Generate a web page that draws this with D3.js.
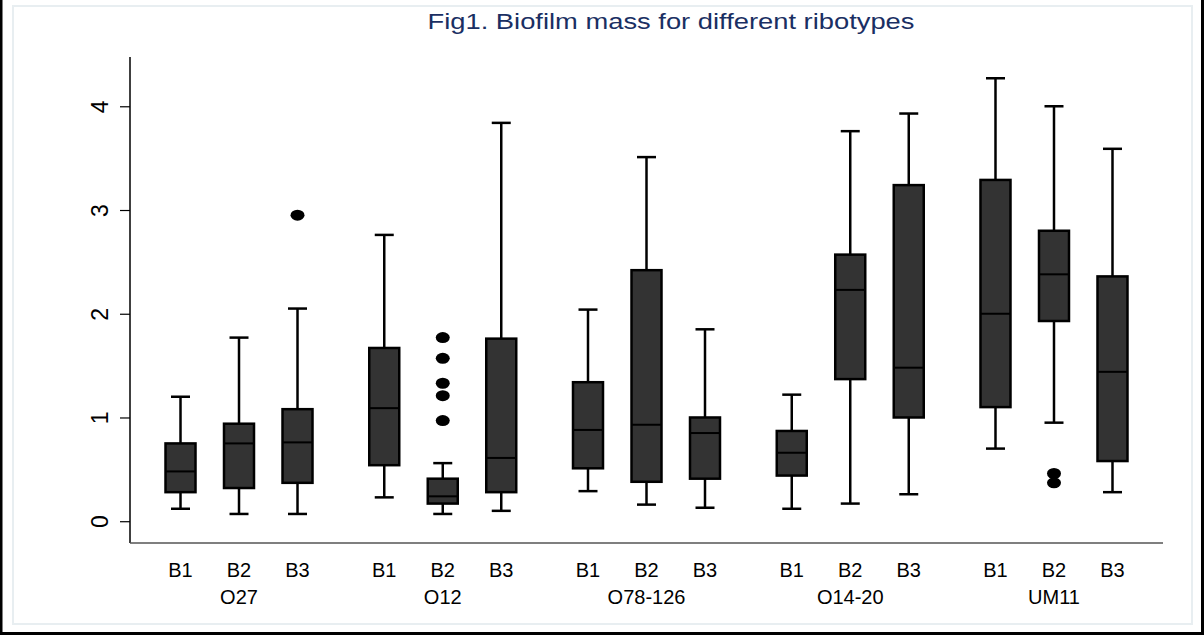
<!DOCTYPE html>
<html>
<head>
<meta charset="utf-8">
<script src="https://cdn.jsdelivr.net/npm/d3@7"></script>
<style>
  body { margin: 0; background: #fff; }
  svg { display: block; font-family: "Liberation Sans", Arial, sans-serif; }
</style>
</head>
<body>
<div id="chart"></div>
<script>
// ribotypes (groups) and the three bacterial strains shown inside each
var groups = ["O27", "O12", "O78-126", "O14-20", "UM11"];
var strains = ["B1", "B2", "B3"];
var yTicks = [0, 1, 2, 3, 4];

// box stats per group, in strain order B1,B2,B3 : [lowWhisker, q1, median, q3, highWhisker]
var statsO27    = [[0.12, 0.28, 0.48, 0.75, 1.20], [0.07, 0.32, 0.75, 0.94, 1.77], [0.07, 0.37, 0.76, 1.08, 2.05]];
var statsO12    = [[0.23, 0.54, 1.09, 1.67, 2.76], [0.07, 0.17, 0.24, 0.41, 0.56], [0.10, 0.28, 0.61, 1.76, 3.84]];
var statsO78    = [[0.29, 0.51, 0.88, 1.34, 2.04], [0.16, 0.38, 0.93, 2.42, 3.51], [0.13, 0.41, 0.85, 1.00, 1.85]];
var statsO14    = [[0.12, 0.44, 0.66, 0.87, 1.22], [0.17, 1.37, 2.23, 2.57, 3.76], [0.26, 1.00, 1.48, 3.24, 3.93]];
var statsUM11   = [[0.70, 1.10, 2.00, 3.29, 4.27], [0.95, 1.93, 2.38, 2.80, 4.00], [0.28, 0.58, 1.44, 2.36, 3.59]];

// outliers: [group, strain, value]
var outliers = [
  ["O27", "B3", 2.95],
  ["O12", "B2", 1.77], ["O12", "B2", 1.57], ["O12", "B2", 1.33], ["O12", "B2", 1.21], ["O12", "B2", 0.97],
  ["UM11", "B2", 0.46], ["UM11", "B2", 0.37]
];

var allStats = [statsO27, statsO12, statsO78, statsO14, statsUM11];

var W = 1204, H = 635;
var svg = d3.select("#chart").append("svg").attr("width", W).attr("height", H);

// outer frame like the exported graph
svg.append("rect").attr("x", 0).attr("y", 0).attr("width", W).attr("height", H).attr("fill", "#fff");
svg.append("rect").attr("x", 13).attr("y", 6).attr("width", 1179).attr("height", 618)
  .attr("fill", "none").attr("stroke", "#e8eef1").attr("stroke-width", 2);
svg.append("line").attr("x1", 1).attr("x2", 1).attr("y1", 0).attr("y2", H).attr("stroke", "#000").attr("stroke-width", 3);
svg.append("line").attr("x1", W - 1.5).attr("x2", W - 1.5).attr("y1", 0).attr("y2", H).attr("stroke", "#000").attr("stroke-width", 3);
svg.append("line").attr("x1", 0).attr("x2", W).attr("y1", H - 1.5).attr("y2", H - 1.5).attr("stroke", "#000").attr("stroke-width", 3);

// plot area (names avoid window.top)
var pLeft = 130, pRight = 1163, pBottom = 543, pTop = 57;

var y = d3.scaleLinear().domain([-0.21, 4.475]).range([pBottom, pTop]);
var xg = d3.scalePoint().domain(groups).range([pLeft, pRight]).padding(0.535);
var xs = d3.scalePoint().domain(strains).range([-58.5, 58.5]);

var boxW = 30, capW = 19;

// title
svg.append("text").attr("x", 671).attr("y", 29).attr("text-anchor", "middle")
  .style("font-size", "22px").attr("fill", "#1a2f63")
  .attr("textLength", 487).attr("lengthAdjust", "spacingAndGlyphs")
  .text("Fig1. Biofilm mass for different ribotypes");

// axes
svg.append("line").attr("x1", pLeft).attr("x2", pLeft).attr("y1", pTop).attr("y2", pBottom)
  .attr("stroke", "#000").attr("stroke-width", 1.5);
svg.append("line").attr("x1", pLeft).attr("x2", pRight).attr("y1", pBottom).attr("y2", pBottom)
  .attr("stroke", "#555").attr("stroke-width", 1.5);

var yAxis = d3.axisLeft(y).tickValues(yTicks).tickSize(10).tickFormat(d3.format("d"));
var gy = svg.append("g").attr("transform", "translate(" + pLeft + ",0)").call(yAxis);
gy.select(".domain").remove();
gy.selectAll(".tick line").attr("stroke", "#000").attr("stroke-width", 1.2);
gy.selectAll(".tick text").remove();
gy.selectAll(".tick").append("text")
  .attr("transform", "translate(-30,0) rotate(-90)")
  .attr("text-anchor", "middle").attr("dy", "0.35em")
  .attr("fill", "#000").style("font-size", "23px")
  .text(function(d) { return d; });

// draw the boxes
groups.forEach(function(g, gi) {
  strains.forEach(function(s, si) {
    var st = allStats[gi][si];
    var cx = xg(g) + xs(s);
    var grp = svg.append("g");
    // whiskers
    grp.append("line").attr("x1", cx).attr("x2", cx).attr("y1", y(st[4])).attr("y2", y(st[3]))
      .attr("stroke", "#000").attr("stroke-width", 2.5);
    grp.append("line").attr("x1", cx).attr("x2", cx).attr("y1", y(st[1])).attr("y2", y(st[0]))
      .attr("stroke", "#000").attr("stroke-width", 2.5);
    grp.append("line").attr("x1", cx - capW / 2).attr("x2", cx + capW / 2).attr("y1", y(st[4])).attr("y2", y(st[4]))
      .attr("stroke", "#000").attr("stroke-width", 2.5);
    grp.append("line").attr("x1", cx - capW / 2).attr("x2", cx + capW / 2).attr("y1", y(st[0])).attr("y2", y(st[0]))
      .attr("stroke", "#000").attr("stroke-width", 2.5);
    // box
    grp.append("rect").attr("x", cx - boxW / 2).attr("width", boxW)
      .attr("y", y(st[3])).attr("height", y(st[1]) - y(st[3]))
      .attr("fill", "#333333").attr("stroke", "#000").attr("stroke-width", 2.5);
    // median
    grp.append("line").attr("x1", cx - boxW / 2).attr("x2", cx + boxW / 2).attr("y1", y(st[2])).attr("y2", y(st[2]))
      .attr("stroke", "#000").attr("stroke-width", 2);

    // strain label
    svg.append("text").attr("x", cx).attr("y", 577).attr("text-anchor", "middle")
      .style("font-size", "20px").attr("fill", "#000").text(s);
  });
  svg.append("text").attr("x", xg(g)).attr("y", 604).attr("text-anchor", "middle")
    .style("font-size", "20px").attr("fill", "#000").text(g);
});

// outside values
svg.selectAll("ellipse.out").data(outliers).enter().append("ellipse")
  .attr("class", "out")
  .attr("cx", function(d) { return xg(d[0]) + xs(d[1]); })
  .attr("cy", function(d) { return y(d[2]); })
  .attr("rx", 7).attr("ry", 5.5).attr("fill", "#000");
</script>
</body>
</html>
